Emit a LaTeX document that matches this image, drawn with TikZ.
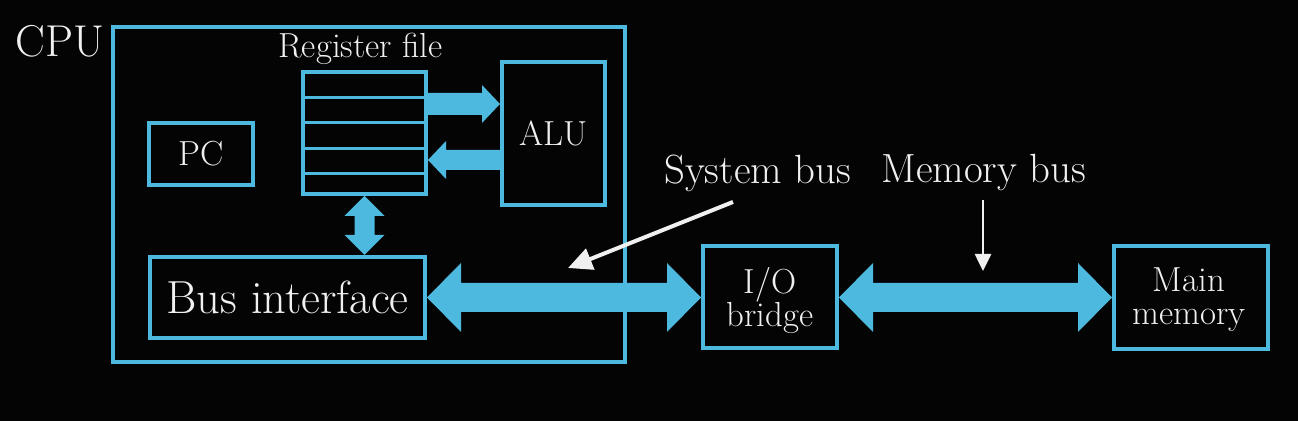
\documentclass[tikz,border=0pt]{standalone}
\usepackage{fontspec}
\usetikzlibrary{calc,arrows.meta}
\definecolor{busblue}{RGB}{77,185,222}
\definecolor{txtwhite}{RGB}{240,240,240}
\definecolor{bgblack}{RGB}{4,4,4}
% horizontal double arrow: #1 left tip, #2 right tip, #3 shaft half-width, #4 head half-width, #5 head length
\newcommand{\busLR}[5]{\fill[bus] (#1) -- ($(#1)+(#5,-#4)$) -- ($(#1)+(#5,-#3)$) -- ($(#2)+(-#5,-#3)$) -- ($(#2)+(-#5,-#4)$) -- (#2) -- ($(#2)+(-#5,#4)$) -- ($(#2)+(-#5,#3)$) -- ($(#1)+(#5,#3)$) -- ($(#1)+(#5,#4)$) -- cycle;}
% vertical double arrow: #1 top tip, #2 bottom tip
\newcommand{\busUD}[5]{\fill[bus] (#1) -- ($(#1)+(#4,#5)$) -- ($(#1)+(#3,#5)$) -- ($(#2)+(#3,-#5)$) -- ($(#2)+(#4,-#5)$) -- (#2) -- ($(#2)+(-#4,-#5)$) -- ($(#2)+(-#3,-#5)$) -- ($(#1)+(-#3,#5)$) -- ($(#1)+(-#4,#5)$) -- cycle;}
% right-pointing single arrow: #1 tail, #2 tip
\newcommand{\busR}[5]{\fill[bus] ($(#1)+(0,-#3)$) -- ($(#2)+(-#5,-#3)$) -- ($(#2)+(-#5,-#4)$) -- (#2) -- ($(#2)+(-#5,#4)$) -- ($(#2)+(-#5,#3)$) -- ($(#1)+(0,#3)$) -- cycle;}
% left-pointing single arrow: #1 tail, #2 tip
\newcommand{\busL}[5]{\fill[bus] ($(#1)+(0,-#3)$) -- ($(#2)+(#5,-#3)$) -- ($(#2)+(#5,-#4)$) -- (#2) -- ($(#2)+(#5,#4)$) -- ($(#2)+(#5,#3)$) -- ($(#1)+(0,#3)$) -- cycle;}
\tikzset{
  box/.style={draw=busblue, line width=2pt, inner sep=0pt, text=txtwhite},
  bus/.style={fill=busblue},
  lbl/.style={text=txtwhite, inner sep=0pt},
  fsmall/.style={font=\fontsize{17.4}{20}\selectfont},
  fmid/.style={font=\fontsize{20.4}{24}\selectfont},
  fbig/.style={font=\fontsize{23.2}{28}\selectfont},
  fcpu/.style={font=\fontsize{22.3}{27}\selectfont},
  rowline/.style={draw=busblue, line width=1.5pt},
  pointer/.style={draw=txtwhite, line width=2pt, -{Triangle[length=12pt,width=11pt]}},
  thinpointer/.style={draw=txtwhite, line width=1.3pt, -{Triangle[length=8.5pt,width=8pt]}},
}
\begin{document}
\begin{tikzpicture}[x=0.5pt,y=-0.5pt]
\fill[bgblack] (0,0) rectangle (1298,421);
\useasboundingbox (0,0) rectangle (1298,421);

% boxes
\node[box, minimum width=256pt, minimum height=167.5pt] (cpu) at (369,194.5) {};
\node[lbl, fcpu, anchor=base west] (cpulbl) at (15,57) {CPU};
\node[box, fsmall, minimum width=52pt, minimum height=31pt] (pc) at (201,154) {PC};
\node[box, minimum width=61.5pt, minimum height=61pt] (rf) at (364.5,133) {};
\node[lbl, fsmall, anchor=base] (rflbl) at (360.5,58) {Register file};
\node[box, fsmall, minimum width=51.5pt, minimum height=71.5pt] (alu) at (553.5,133.5) {ALU};
\node[box, fbig, minimum width=137.5pt, minimum height=40.5pt] (bi) at (287.5,297.5) {Bus interface};
\node[box, minimum width=67pt, minimum height=51pt] (io) at (770,297.5) {};
\node[lbl, fsmall, anchor=base] (iot1) at ($(io.center)+(0,-3.5)$) {I/O};
\node[lbl, fsmall, anchor=base] (iot2) at ($(io.center)+(0,29.5)$) {bridge};
\node[box, minimum width=77pt, minimum height=51.5pt] (mm) at (1191,297.5) {};
\node[lbl, fsmall, anchor=base] (mmt1) at ($(mm.center)+(-2,-5.5)$) {Main};
\node[lbl, fsmall, anchor=base] (mmt2) at ($(mm.center)+(-2,27.5)$) {memory};

% register rows
\foreach \yy in {98,123,149,174} \draw[rowline] (rf.west |- 0,\yy) -- (rf.east |- 0,\yy);

% register file <-> ALU
\coordinate (r1s) at (rf.east |- 0,104);
\coordinate (r1e) at (alu.west |- 0,104);
\coordinate (r2s) at (alu.west |- 0,160);
\coordinate (r2e) at (rf.east |- 0,160);
\busR{r1s}{r1e}{11}{19}{18}
\busL{r2s}{r2e}{10}{19}{18}

% register file <-> bus interface
\coordinate (vt) at (rf.south);
\coordinate (vb) at (rf.south |- bi.north);
\busUD{vt}{vb}{10}{20}{20}

% system bus and memory bus
\busLR{bi.east}{io.west}{14.5}{34.5}{34}
\busLR{io.east}{mm.west}{14.5}{34.5}{34}

% labels and pointers
\node[lbl, fmid, anchor=base] (sblbl) at (757.5,184) {System bus};
\node[lbl, fmid, anchor=base] (mblbl) at (983.5,183) {Memory bus};
\coordinate (sbs) at (733,202);
\coordinate (sbt) at (568,268);
\draw[pointer] (sbs) -- (sbt);
\coordinate (mbs) at (983,200);
\coordinate (mbt) at (983,271);
\draw[thinpointer] (mbs) -- (mbt);
\end{tikzpicture}
\end{document}
